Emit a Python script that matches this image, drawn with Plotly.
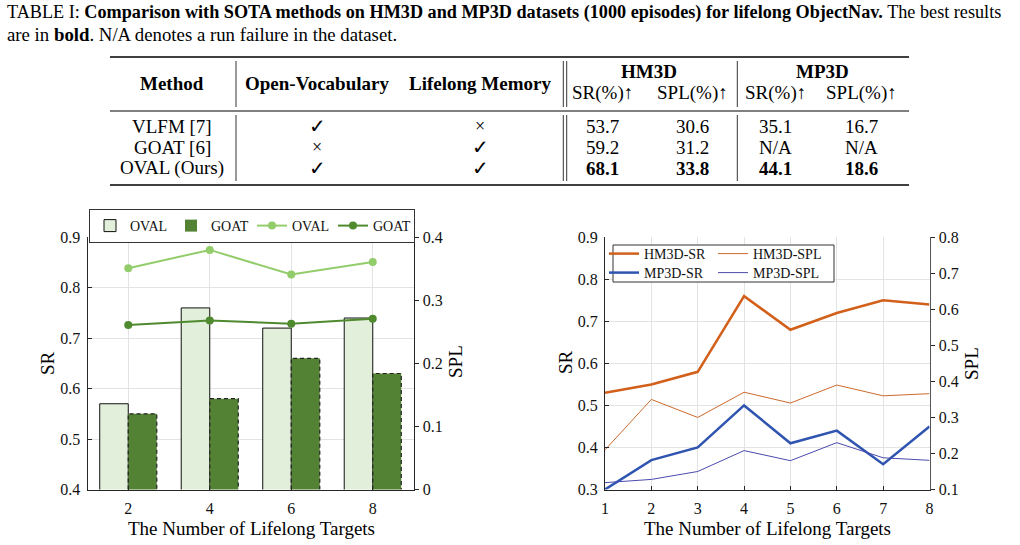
import plotly.graph_objects as go

W, H = 1020, 545
FONT = "Liberation Serif"


def X(px):
    return px / W


def Y(py):
    return 1 - py / H


# ---------------- table data ----------------
caption_line1 = ("TABLE I: <b>Comparison with SOTA methods on HM3D and MP3D datasets "
                 "(1000 episodes) for lifelong ObjectNav.</b> The best results")
caption_line2 = "are in <b>bold</b>. N/A denotes a run failure in the dataset."
methods = ["VLFM [7]", "GOAT [6]", "OVAL (Ours)"]
open_vocab = ["✓", "×", "✓"]
lifelong_memory = ["×", "✓", "✓"]
hm3d_sr_tab = ["53.7", "59.2", "68.1"]
hm3d_spl_tab = ["30.6", "31.2", "33.8"]
mp3d_sr_tab = ["35.1", "N/A", "44.1"]
mp3d_spl_tab = ["16.7", "N/A", "18.6"]
best_row = 2

# ---------------- left chart data ----------------
targets_a = [2, 4, 6, 8]
oval_sr = [0.57, 0.76, 0.72, 0.74]
goat_sr = [0.55, 0.58, 0.66, 0.63]
oval_spl = [0.351, 0.380, 0.341, 0.361]
goat_spl = [0.261, 0.268, 0.263, 0.271]

# ---------------- right chart data ----------------
targets_b = [1, 2, 3, 4, 5, 6, 7, 8]
hm3d_sr = [0.53, 0.55, 0.58, 0.76, 0.68, 0.72, 0.75, 0.74]
hm3d_spl = [0.21, 0.35, 0.30, 0.37, 0.34, 0.39, 0.36, 0.366]
mp3d_sr = [0.30, 0.37, 0.40, 0.50, 0.41, 0.44, 0.36, 0.45]
mp3d_spl = [0.119, 0.128, 0.150, 0.208, 0.180, 0.230, 0.188, 0.181]

C_OVAL_BAR = "#e2efda"
C_GOAT_BAR = "#548235"
C_OVAL_LINE = "#93cd6b"
C_GOAT_LINE = "#4f8a2e"
C_HM = "#d2601a"
C_HM_THIN = "#cc6a2c"
C_MP = "#2f55b0"
C_MP_THIN = "#4a4aad"

fig = go.Figure()

# ---- left chart bars ----
fig.add_trace(go.Bar(x=targets_a, y=oval_sr, name="OVAL", marker=dict(color=C_OVAL_BAR, line=dict(color="#111", width=1)),
                     xaxis="x", yaxis="y", legend="legend", offsetgroup="a"))
fig.add_trace(go.Bar(x=targets_a, y=goat_sr, name="GOAT", marker=dict(color=C_GOAT_BAR, line=dict(width=0)),
                     xaxis="x", yaxis="y", legend="legend", offsetgroup="b"))
# dashed outline of the GOAT bars (derived from data)
bw = 0.7
ox, oy = [], []
for xv, yv in zip(targets_a, goat_sr):
    ox += [xv, xv, xv + bw, xv + bw, None]
    oy += [0.4, yv, yv, 0.4, None]
fig.add_trace(go.Scatter(x=ox, y=oy, mode="lines", line=dict(color="#222", width=1.2, dash="4px,3px"),
                         showlegend=False, hoverinfo="skip", xaxis="x", yaxis="y"))
# ---- left chart lines ----
fig.add_trace(go.Scatter(x=targets_a, y=oval_spl, name="OVAL", mode="lines+markers",
                         line=dict(color=C_OVAL_LINE, width=2), marker=dict(size=8, color=C_OVAL_LINE),
                         xaxis="x", yaxis="y2", legend="legend"))
fig.add_trace(go.Scatter(x=targets_a, y=goat_spl, name="GOAT", mode="lines+markers",
                         line=dict(color=C_GOAT_LINE, width=2), marker=dict(size=8, color=C_GOAT_LINE),
                         xaxis="x", yaxis="y2", legend="legend"))

# ---- right chart lines ----
fig.add_trace(go.Scatter(x=targets_b, y=hm3d_sr, name="HM3D-SR", mode="lines", line=dict(color=C_HM, width=2.5),
                         xaxis="x2", yaxis="y3", legend="legend2"))
fig.add_trace(go.Scatter(x=targets_b, y=hm3d_spl, name="HM3D-SPL", mode="lines", line=dict(color=C_HM_THIN, width=1),
                         xaxis="x2", yaxis="y4", legend="legend2"))
fig.add_trace(go.Scatter(x=targets_b, y=mp3d_sr, name="MP3D-SR", mode="lines", line=dict(color=C_MP, width=2.5),
                         xaxis="x2", yaxis="y3", legend="legend3"))
fig.add_trace(go.Scatter(x=targets_b, y=mp3d_spl, name="MP3D-SPL", mode="lines", line=dict(color=C_MP_THIN, width=1),
                         xaxis="x2", yaxis="y4", legend="legend3"))

tickfont = dict(family=FONT, size=16, color="#111")
grid = "#e3e3e3"
axcol = "#262626"

lx0, lx1 = X(87.5), X(413.5)
rx0, rx1 = X(605), X(929.5)
y0, y1 = Y(489.5), Y(237.3)

common_x = dict(showgrid=True, gridcolor=grid, gridwidth=1, showline=True, linecolor=axcol, linewidth=1,
                ticks="inside", ticklen=4, tickcolor=axcol, tickfont=tickfont, zeroline=False,
                ticklabelstandoff=4, automargin=False)
common_y = dict(showgrid=True, gridcolor=grid, gridwidth=1, showline=True, linecolor=axcol, linewidth=1,
                ticks="inside", ticklen=4, tickcolor=axcol, tickfont=tickfont, zeroline=False,
                ticklabelstandoff=3, automargin=False)

legfont = dict(family=FONT, size=14, color="#111")
fig.update_layout(
    width=W, height=H, margin=dict(l=0, r=0, t=0, b=0, pad=0, autoexpand=False),
    paper_bgcolor="white", plot_bgcolor="white",
    font=dict(family=FONT, color="#111"),
    barmode="group", bargap=0.3, bargroupgap=0,
    xaxis=dict(domain=[lx0, lx1], range=[1, 9], tickvals=targets_a, anchor="y", **common_x),
    yaxis=dict(domain=[y0, y1], range=[0.4, 0.9], dtick=0.1, tickformat=".1f", anchor="x", **common_y),
    yaxis2=dict(overlaying="y", side="right", range=[0, 0.4], tickvals=[0, 0.1, 0.2, 0.3, 0.4],
                ticktext=["0", "0.1", "0.2", "0.3", "0.4"], showgrid=False, showline=True, linecolor=axcol,
                linewidth=1, ticks="outside", ticklen=4, tickcolor=axcol, tickfont=tickfont, zeroline=False,
                anchor="x", ticklabelstandoff=1, automargin=False),
    xaxis2=dict(domain=[rx0, rx1], range=[1, 8], dtick=1, anchor="y3", **common_x),
    yaxis3=dict(domain=[y0, y1], range=[0.3, 0.9], dtick=0.1, tickformat=".1f", anchor="x2", **common_y),
    yaxis4=dict(overlaying="y3", side="right", range=[0.1, 0.8], dtick=0.1, tickformat=".1f", showgrid=False,
                showline=True, linecolor="#555", linewidth=1, ticks="outside", ticklen=4, tickcolor=axcol,
                tickfont=tickfont, zeroline=False, anchor="x2", ticklabelstandoff=1, automargin=False),
    legend=dict(orientation="h", x=X(89), y=Y(209), xanchor="left", yanchor="top",
                bgcolor="white", bordercolor="#333", borderwidth=1,
                font=legfont, itemwidth=30, tracegroupgap=0,
                entrywidth=36, entrywidthmode="pixels"),
    legend2=dict(orientation="h", x=X(604), y=Y(238), xanchor="left", yanchor="top",
                 bgcolor="rgba(0,0,0,0)", borderwidth=0, font=legfont, itemwidth=30,
                 entrywidth=64, entrywidthmode="pixels"),
    legend3=dict(orientation="h", x=X(604), y=Y(257), xanchor="left", yanchor="top",
                 bgcolor="rgba(0,0,0,0)", borderwidth=0, font=legfont, itemwidth=30,
                 entrywidth=64, entrywidthmode="pixels"),
    showlegend=True,
)

shapes = []
# legend box of right chart
shapes.append(dict(type="rect", xref="paper", yref="paper", x0=X(613), x1=X(834), y0=Y(282), y1=Y(245),
                   line=dict(color="#333", width=1), fillcolor="white", layer="above"))
# table rules
for py, lw in [(57, 1.6), (111, 1.0), (185, 1.6)]:
    shapes.append(dict(type="line", xref="paper", yref="paper", x0=X(110), x1=X(909), y0=Y(py), y1=Y(py),
                       line=dict(color="black", width=lw)))
for px in [236, 563.3, 566.7, 737.3]:
    for (a, b) in [(61, 107), (115, 181)]:
        shapes.append(dict(type="line", xref="paper", yref="paper", x0=X(px), x1=X(px), y0=Y(a), y1=Y(b),
                           line=dict(color="black", width=0.8)))
fig.update_layout(shapes=shapes)

ann = []


def txt(s, px, py, size=19, xanchor="center", angle=0):
    ann.append(dict(text=s, x=X(px), y=Y(py), xref="paper", yref="paper", showarrow=False,
                    xanchor=xanchor, yanchor="middle", textangle=angle,
                    font=dict(family=FONT, size=size, color="black")))


txt(caption_line1, 5, 13, size=18.2, xanchor="left")
txt(caption_line2, 5, 34, size=18.8, xanchor="left")

# header
txt("<b>Method</b>", 172, 83)
txt("<b>Open-Vocabulary</b>", 316.5, 83)
txt("<b>Lifelong Memory</b>", 480, 83)
txt("<b>HM3D</b>", 649, 71)
txt("<b>MP3D</b>", 822, 71)
col_x = [602, 692, 775, 861]
for cx, lab in zip(col_x, ["SR(%)↑", "SPL(%)↑", "SR(%)↑", "SPL(%)↑"]):
    txt(lab, cx, 93)
row_y = [126, 147, 168]
cols = [hm3d_sr_tab, hm3d_spl_tab, mp3d_sr_tab, mp3d_spl_tab]
for i, ry in enumerate(row_y):
    txt(methods[i], 172, ry)
    txt(open_vocab[i], 317, ry, size=20 if open_vocab[i] == "✓" else 18)
    txt(lifelong_memory[i], 480, ry, size=20 if lifelong_memory[i] == "✓" else 18)
    for cx, col in zip(col_x, cols):
        v = col[i]
        txt(f"<b>{v}</b>" if i == best_row else v, cx, ry)

# axis titles
txt("SR", 47, 363, size=19, angle=-90)
txt("SPL", 455, 362, size=19, angle=-90)
txt("The Number of Lifelong Targets", 251, 528, size=19)
txt("SR", 565, 362, size=19, angle=-90)
txt("SPL", 971, 364, size=19, angle=-90)
txt("The Number of Lifelong Targets", 767, 528, size=19)

fig.update_layout(annotations=ann)
fig.write_html("out.html")
